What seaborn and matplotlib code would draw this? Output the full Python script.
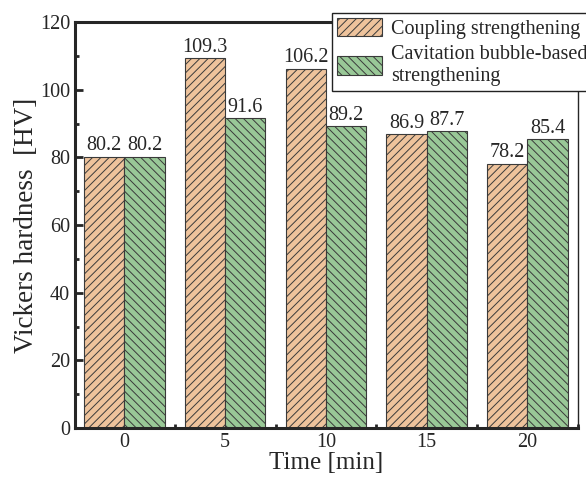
import pandas as pd
import numpy as np
import matplotlib.pyplot as plt
import seaborn as sns
from matplotlib.ticker import MultipleLocator, AutoMinorLocator

times = ["0", "5", "10", "15", "20"]
coupling = [80.2, 109.3, 106.2, 86.9, 78.2]
cavitation = [80.2, 91.6, 89.2, 87.7, 85.4]
series = ["Coupling strengthening", "Cavitation bubble-based\nstrengthening"]

df = pd.DataFrame({
    "time": times * 2,
    "hv": coupling + cavitation,
    "method": [series[0]] * len(times) + [series[1]] * len(times),
})

sns.set_style("ticks")
plt.rcParams["font.family"] = ["Liberation Serif", "DejaVu Serif"]
plt.rcParams["hatch.linewidth"] = 0.7

fig = plt.figure(figsize=(5.86, 4.82), dpi=100)
ax = fig.add_axes([0.128, 0.112, 0.858, 0.842])

sns.barplot(data=df, x="time", y="hv", hue="method", order=times,
            palette=["#FBC38F", "#92D08F"], width=0.8, gap=0,
            edgecolor="#3a3a3a", linewidth=0.8, legend=False, ax=ax)

for cont, h in zip(ax.containers, ["////", "\\\\\\\\"]):
    for p in cont:
        p.set_hatch(h)
    ax.bar_label(cont, fmt="%.1f", padding=1, fontsize=14.5)

ax.set_ylim(0, 120)
ax.set_xlim(-0.49, 4.49)
ax.yaxis.set_major_locator(MultipleLocator(20))
ax.yaxis.set_minor_locator(AutoMinorLocator(2))
ax.set_xticks(np.arange(len(times)) + 0.5, minor=True)
ax.tick_params(which="major", direction="in", length=6, width=2, labelsize=14.5)
ax.tick_params(which="minor", direction="in", length=3, width=2)

for side in ["left", "bottom", "top"]:
    ax.spines[side].set_linewidth(2.2)
ax.spines["right"].set_linewidth(1.0)
ax.spines["top"].set_visible(True)
ax.spines["right"].set_visible(True)

ax.set_xlabel("Time [min]", fontsize=18, labelpad=0)
ax.set_ylabel("Vickers hardness  [HV]", fontsize=19.5, labelpad=1)

leg = ax.legend(ax.containers, series, loc="upper left",
                bbox_to_anchor=(0.567, 0.973), bbox_transform=fig.transFigure,
                fontsize=14.5, frameon=True, fancybox=False, framealpha=1,
                edgecolor="#222222", handlelength=2.2, handleheight=1.0,
                borderpad=0.25, labelspacing=0.3, handletextpad=0.45,
                borderaxespad=0)
leg.get_frame().set_linewidth(1.0)
leg.set_clip_on(False)

fig.savefig("out.png", dpi=100)
